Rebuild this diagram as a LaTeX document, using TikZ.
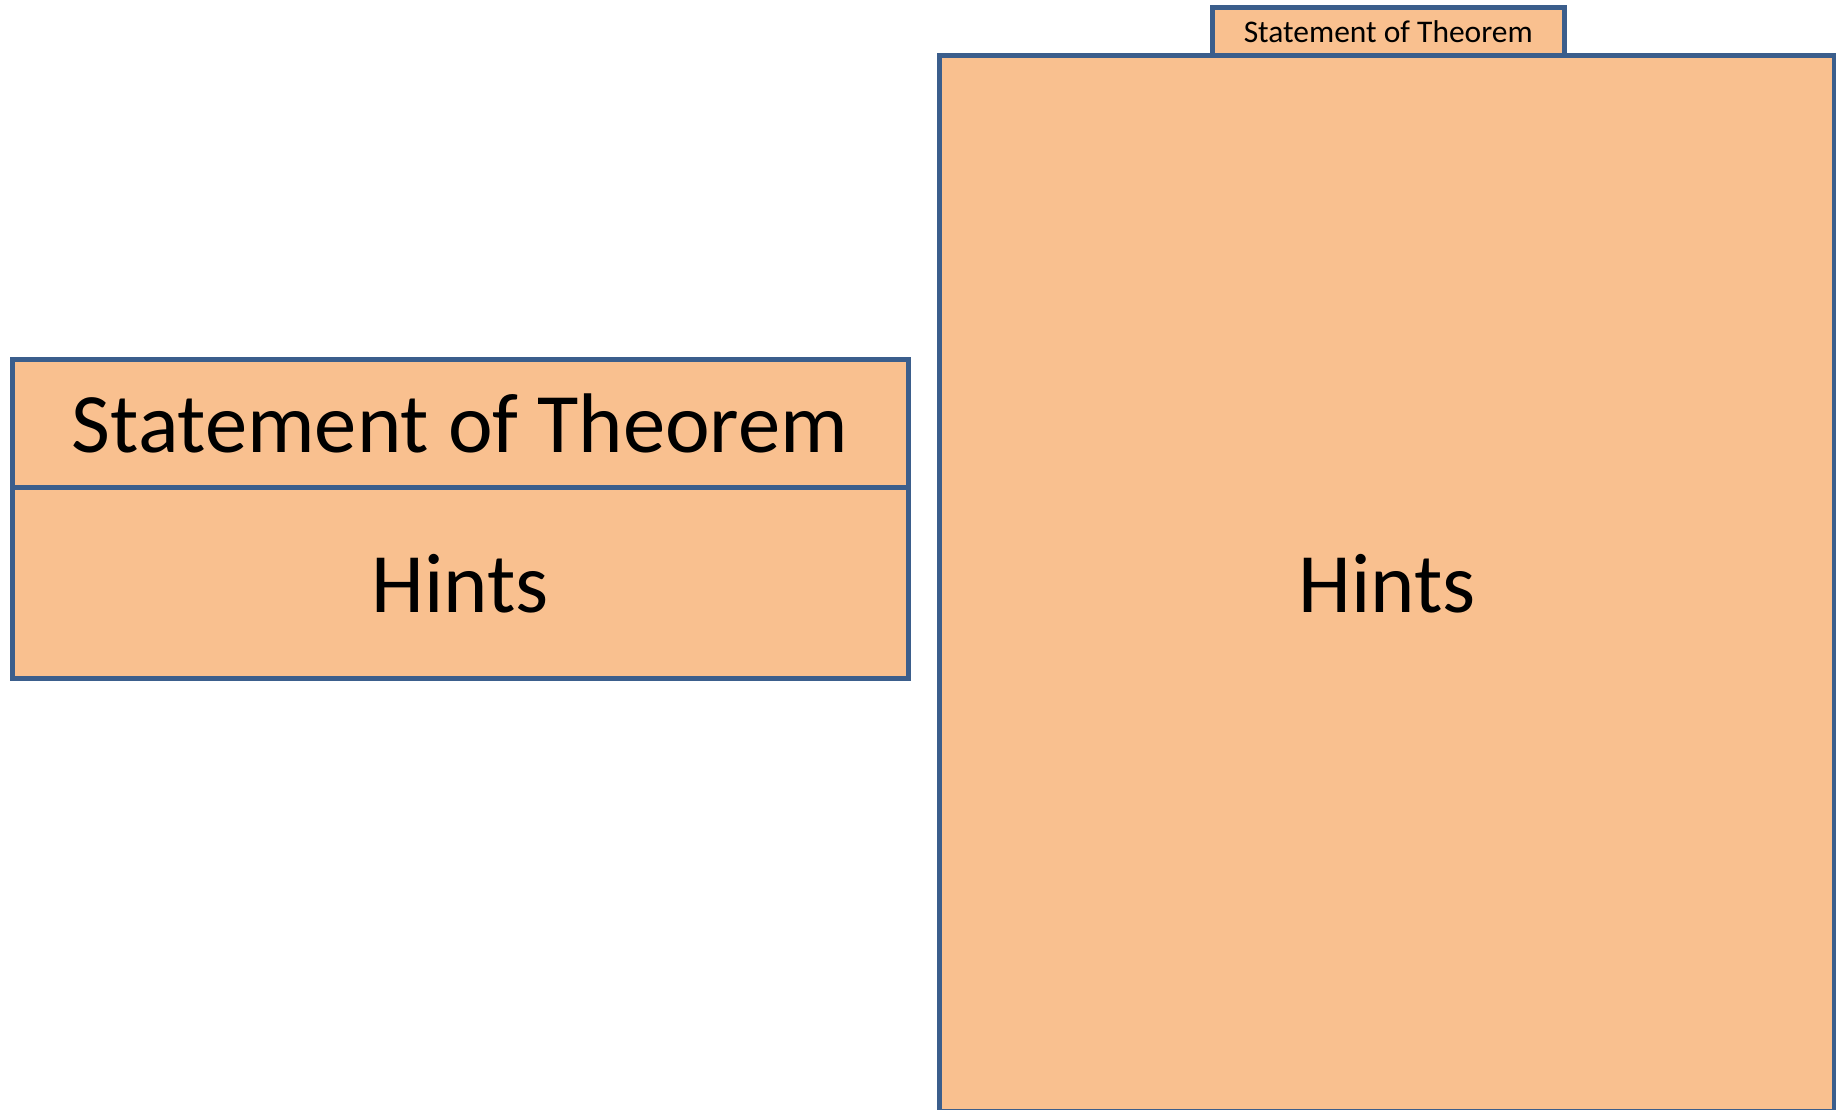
\documentclass[tikz,border=0pt]{standalone}
\usepackage{fontspec}
\setmainfont{Carlito}
\usepackage{tikz}
\definecolor{boxfill}{HTML}{F9C08F}
\definecolor{boxline}{HTML}{3B5E8C}
\newcommand{\bigtext}{\fontsize{84.6}{100}\selectfont}
\newcommand{\smalltext}{\fontsize{31.5}{38}\selectfont}

\begin{document}
\begin{tikzpicture}[x=1pt,y=1pt,
    box/.style={draw=boxline, fill=boxfill, line width=5pt, rectangle, inner sep=0pt}]
    \useasboundingbox (0,0) rectangle (1836,1110);

    % left: statement on top of the hints
    \node[box, minimum width=896pt, minimum height=128.5pt, font=\bigtext] (stmt) at (460,686.25) {Statement of Theorem};
    \node[box, minimum width=896pt, minimum height=191pt, font=\bigtext] (hints) at (460,526.5) {Hints};

    % right: small tab and a tall hints box
    \node[box, minimum width=351.5pt, minimum height=48pt, font=\smalltext] (tab) at (1388.25,1078.5) {Statement of Theorem};
    \node[box, minimum width=895pt, minimum height=1056.5pt, font=\bigtext] (bighints) at (1387,526.25) {Hints};
\end{tikzpicture}
\end{document}
